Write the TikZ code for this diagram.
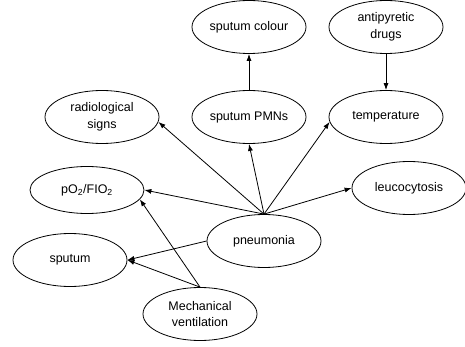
\documentclass[tikz,border=0pt]{standalone}
\usepackage{fontspec}
\setmainfont{Liberation Sans}
\usetikzlibrary{shapes.geometric,arrows.meta}
\begin{document}
\begin{tikzpicture}[x=1pt,y=-1pt,
  ell/.style={draw,line width=0.8pt,ellipse,inner sep=0pt,minimum width=114pt,minimum height=53pt,align=center,font=\fontsize{12.5}{16.5}\selectfont},
  arr/.style={line width=0.8pt,-{Latex[length=7pt,width=5pt]}}]
\useasboundingbox (0,0) rectangle (465,347);
\node[ell] (col) at (249,27) {sputum colour};
\node[ell] (anti) at (386,27) {antipyretic\\drugs};
\node[ell] (pmn) at (249,117) {sputum PMNs};
\node[ell] (temp) at (386,117) {temperature};
\node[ell] (rad) at (102,117) {radiological\\signs};
\node[ell,minimum height=47pt] (po) at (87,190) {pO\textsubscript{2}/FIO\textsubscript{2}};
\node[ell] (leu) at (409,188) {leucocytosis};
\node[ell] (pn) at (264,241) {pneumonia};
\node[ell] (sp) at (70,260) {sputum};
\node[ell] (mv) at (200,314) {Mechanical\\ventilation};
\draw[arr] (pmn) -- (col);
\draw[arr] (anti) -- (temp);
\draw[arr] (pn.north) -- (rad.-5);
\draw[arr] (pn.north) -- (pmn.south);
\draw[arr] (pn.north) -- (temp.185);
\draw[arr] (pn.north) -- (leu.west);
\draw[arr] (pn.north) -- (po.east);
\draw[arr] (pn.west) -- (sp.east);
\draw[arr] (mv.north) -- (sp.east);
\draw[arr] (mv.north) -- (po.-10);
\end{tikzpicture}
\end{document}
